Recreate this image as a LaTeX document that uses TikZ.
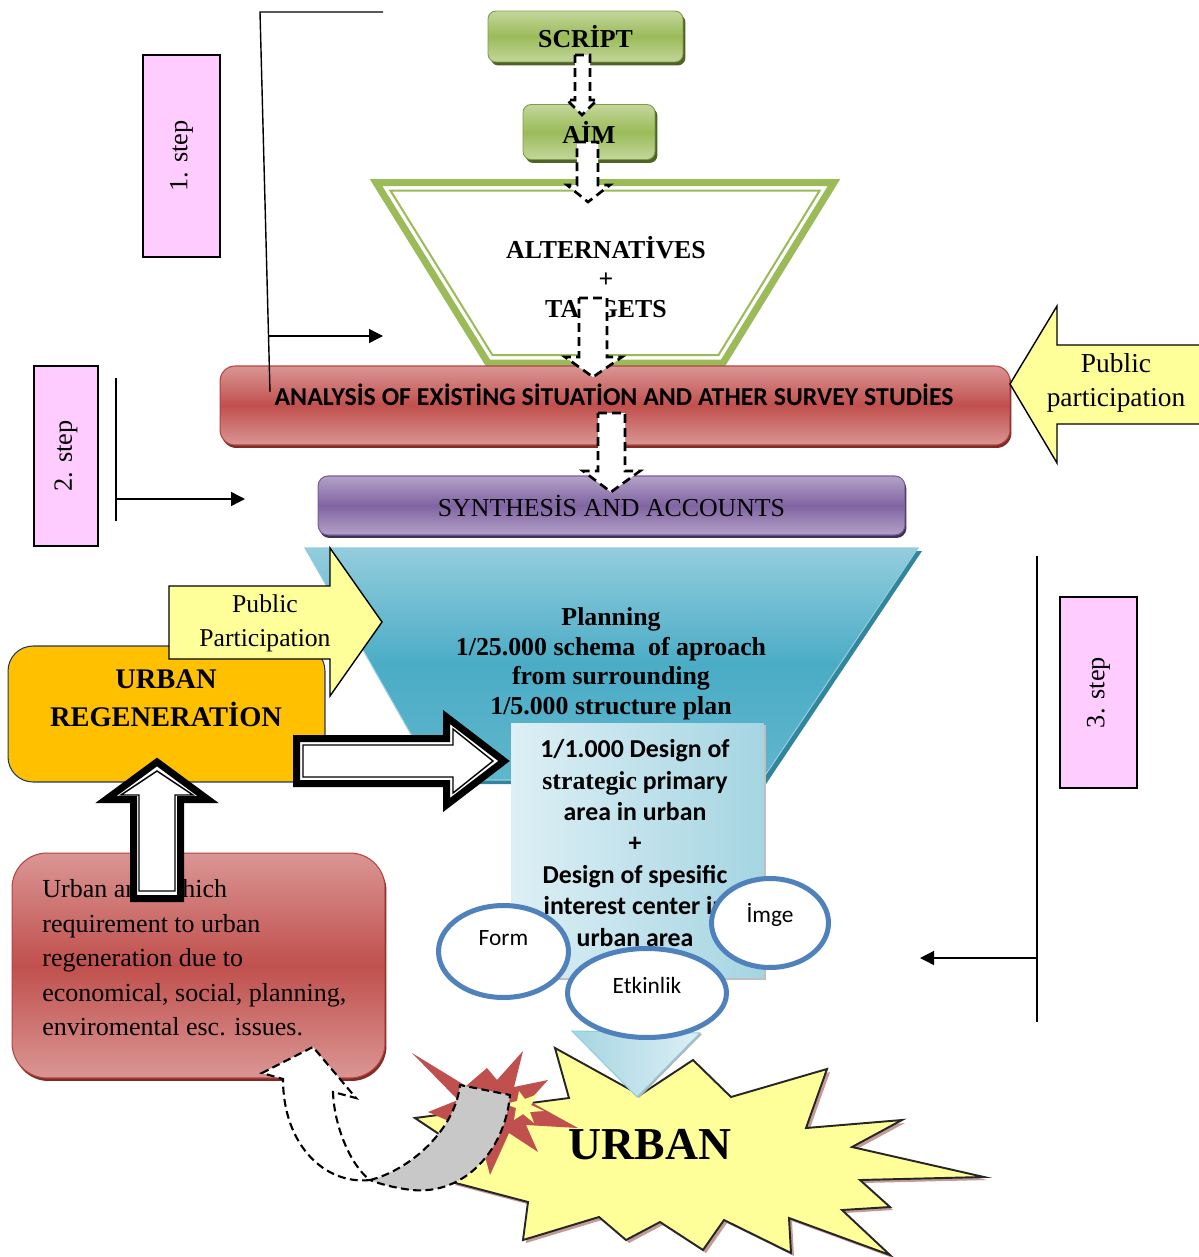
\documentclass[tikz,border=0pt]{standalone}
\usepackage{fontspec}
\setmainfont{Liberation Serif}
\newfontfamily\calibri{Carlito}
\newfontfamily\timesfont{Liberation Serif}
\usepackage{tikz}
\usetikzlibrary{positioning,shapes.geometric,arrows.meta,shadows}

\definecolor{stepPink}{HTML}{FFCCFF}
\definecolor{greenLight}{HTML}{C3D69B}
\definecolor{greenMid}{HTML}{9BBB59}
\definecolor{greenEdge}{HTML}{7F9E44}
\definecolor{greenDark}{HTML}{4F6228}
\definecolor{redLight}{HTML}{DA9694}
\definecolor{redMid}{HTML}{C0504D}
\definecolor{redEdge}{HTML}{B5443F}
\definecolor{redDark}{HTML}{7F2B28}
\definecolor{purpleLight}{HTML}{B3A2C7}
\definecolor{purpleMid}{HTML}{8064A2}
\definecolor{purpleEdge}{HTML}{7460A0}
\definecolor{purpleDark}{HTML}{3F3151}
\definecolor{blueTop}{HTML}{93CDDD}
\definecolor{blueMid}{HTML}{4BACC6}
\definecolor{blueLow}{HTML}{5FB6CC}
\definecolor{blueDark}{HTML}{31859C}
\definecolor{iceLight}{HTML}{DDEFF5}
\definecolor{iceDark}{HTML}{A5D5E2}
\definecolor{ringBlue}{HTML}{4F81BD}
\definecolor{notePale}{HTML}{FFFF99}
\definecolor{urbanOrange}{HTML}{FFC000}
\definecolor{navyEdge}{HTML}{1F3864}
\definecolor{shadowRose}{HTML}{C29A97}
\definecolor{ribbonGray}{HTML}{C8C8C8}

\begin{document}
\begin{tikzpicture}[
  x=0.02cm, y=-0.02cm,
  stepbox/.style={
    rectangle, draw=black, line width=0.9pt, fill=stepPink,
    rotate=90, minimum height=1.54cm,
    font=\fontsize{15}{18}\selectfont
  },
  greenbox/.style={
    rectangle, rounded corners=0.16cm, draw=greenEdge, line width=0.5pt,
    top color=greenLight, bottom color=greenLight, middle color=greenMid,
    drop shadow={shadow xshift=0.05cm, shadow yshift=-0.07cm, fill=greenDark, opacity=1},
    font=\bfseries\fontsize{14.7}{17}\selectfont
  },
  redbox/.style={
    rectangle, rounded corners=0.3cm, draw=redEdge, line width=0.6pt,
    top color=redLight, bottom color=redLight, middle color=redMid,
    drop shadow={shadow xshift=0.03cm, shadow yshift=-0.06cm, fill=redDark, opacity=1}
  },
  purplebox/.style={
    rectangle, rounded corners=0.2cm, draw=purpleEdge, line width=0.6pt,
    top color=purpleLight, bottom color=purpleLight, middle color=purpleMid,
    drop shadow={shadow xshift=0.03cm, shadow yshift=-0.06cm, fill=purpleDark, opacity=1}
  },
  regenbox/.style={
    rectangle, rounded corners=0.5cm, draw=navyEdge, line width=0.6pt,
    fill=urbanOrange, minimum width=6.34cm, minimum height=2.72cm
  },
  icebox/.style={
    rectangle, left color=iceLight, right color=iceDark,
    drop shadow={shadow xshift=0.04cm, shadow yshift=-0.04cm, fill=black!25, opacity=1},
    minimum width=5.06cm, minimum height=5.1cm
  },
  ring/.style={ellipse, draw=ringBlue, line width=0.1cm, fill=white, inner sep=0pt},
  ringtext/.style={font=\calibri\fontsize{13.3}{16}\selectfont},
  flowarrow/.style={draw=black, fill=white, line width=1.5pt,
    dash pattern=on 5pt off 3pt, line join=miter},
  notearrow/.style={draw=black, line width=0.8pt, fill=notePale, line join=miter},
  bigarrow/.style={draw=black, line width=0.14cm, fill=white, line join=miter},
  bigarrowin/.style={draw=black, line width=0.8pt, line join=miter},
  burst/.style={draw=black!85, line width=1.1pt, line join=miter},
  bracket/.style={line width=0.8pt},
  pointer/.style={bracket, -{Triangle[length=0.28cm,width=0.28cm]}}
]

\fill[white] (0,0) rectangle (1198,1257);
\useasboundingbox (0,0) rectangle (1198,1257);

% Step labels
\node[stepbox, minimum width=4.04cm] (step1) at (181.5,156) {1. step};
\node[stepbox, minimum width=3.6cm, minimum height=1.28cm] (step2) at (66,456) {2. step};
\node[stepbox, minimum width=3.82cm] (step3) at (1098.5,692.5) {3. step};

% Script and aim
\node[greenbox, minimum width=3.9cm, minimum height=1.02cm] (script) at (585.5,36.5) {SCRİPT};
\node[greenbox, minimum width=2.64cm, minimum height=1.1cm] (aim) at (589,132) {AİM};

% Alternatives funnel
\fill[white] (376,182.5) -- (834,182.5) -- (723,363) -- (488,363) -- cycle;
\draw[greenMid, line width=0.14cm, line join=miter] (376,182.5) -- (834,182.5) -- (723,363) -- (488,363) -- cycle;
\draw[greenMid, line width=0.04cm] (390.4,190.5) -- (819.7,190.5) -- (718.5,355) -- (492.4,355) -- cycle;
\node[font=\bfseries\fontsize{14.7}{16.8}\selectfont, align=center] (alts) at (606,277) {ALTERNATİVES\\+\\TARGETS};

% Dashed block arrows, top part
\draw[flowarrow] (575,55) -- (590,55) -- (590,100) -- (597,100) -- (582,115) -- (567,100) -- (575,100) -- cycle;
\draw[flowarrow] (577,142) -- (598,142) -- (598,185) -- (610,185) -- (588,202) -- (567,185) -- (577,185) -- cycle;

% Survey bar
\node[redbox, minimum width=15.8cm, minimum height=1.58cm] (survey) at (615,405.5) {};
\node[font=\calibri\bfseries\fontsize{14.7}{17}\selectfont] (surveytxt) at (614,395) {ANALYSİS OF EXİSTİNG SİTUATİON AND ATHER SURVEY STUDİES};
\draw[flowarrow] (579,298) -- (607,298) -- (607,357) -- (622,357) -- (593,377) -- (565,357) -- (579,357) -- cycle;

% Step 1 bracket
\coordinate (b1top) at (383,12);
\coordinate (b1corner) at (260,12);
\coordinate (b1foot) at (270,392);
\coordinate (b1from) at (268.5,336);
\coordinate (b1to) at (383,336);
\draw[bracket] (b1top) -- (b1corner) -- (b1foot);
\draw[pointer] (b1from) -- (b1to);

% Public participation (right)
\draw[notearrow] (1010,384) -- (1057,306) -- (1057,345) -- (1215,345) -- (1215,424) -- (1057,424) -- (1057,463) -- cycle;
\node[font=\fontsize{15.6}{19.3}\selectfont, align=center] (pubright) at (1116,383) {Public\\participation};

% Synthesis bar
\node[purplebox, minimum width=11.74cm, minimum height=1.18cm, font=\fontsize{14.7}{17}\selectfont] (synth) at (611.5,505.5) {SYNTHESİS AND ACCOUNTS};
\draw[flowarrow] (598,413) -- (625,413) -- (625,471) -- (640,471) -- (611,492) -- (583,471) -- (598,471) -- cycle;

% Step 2 bracket
\coordinate (b2top) at (116,378);
\coordinate (b2foot) at (116,521);
\coordinate (b2from) at (116,499);
\coordinate (b2to) at (245,499);
\draw[bracket] (b2top) -- (b2foot);
\draw[pointer] (b2from) -- (b2to);

% Planning funnel
\fill[blueDark] (309,551) -- (922,551) -- (766,784) -- (441,784) -- cycle;
\shadedraw[top color=blueTop, bottom color=blueLow, middle color=blueMid, draw=blueTop, line width=0.6pt] (305,548) -- (918,548) -- (762,780) -- (437,780) -- cycle;
\node[font=\bfseries\fontsize{14.7}{16.8}\selectfont, align=center] (plan) at (611,664) {Planning\\1/25.000 schema~ of aproach\\from surrounding\\1/5.000 structure plan};

% Design box
\node[icebox] (design) at (637.5,850.5) {};
\node[font=\calibri\bfseries\fontsize{14.7}{17.9}\selectfont, align=center] (designtxt) at (635,843) {1/1.000 Design of\\{\timesfont\bfseries strategic} primary\\area in urban\\+\\Design of spesific\\interest center in\\urban area};

% Step 3 bracket
\coordinate (b3top) at (1037,556);
\coordinate (b3foot) at (1037,1022);
\coordinate (b3from) at (1037,958);
\coordinate (b3to) at (920,958);
\draw[bracket] (b3top) -- (b3foot);
\draw[pointer] (b3from) -- (b3to);

% Urban regeneration
\node[regenbox] (regen) at (166.5,714) {};
\node[font=\bfseries\fontsize{16.2}{21.6}\selectfont, align=center] (regentxt) at (166,698) {URBAN\\REGENERATİON};

% Public participation (left)
\draw[notearrow] (169,586) -- (330,586) -- (330,548) -- (382,622) -- (330,696) -- (330,659) -- (169,659) -- cycle;
\node[font=\fontsize{14.6}{19.3}\selectfont, align=center] (publeft) at (265,623) {Public\\Participation};

% Big arrow into design
\draw[bigarrow] (296.5,738.5) -- (446.5,738.5) -- (446.5,717) -- (504,761) -- (446.5,805) -- (446.5,783.5) -- (296.5,783.5) -- cycle;
\draw[bigarrowin] (303,745) -- (453,745) -- (453,729) -- (493,761) -- (453,793) -- (453,777) -- (303,777) -- cycle;

% Issues box
\node[redbox, rounded corners=0.7cm, minimum width=7.46cm, minimum height=4.5cm] (issues) at (198.5,965.5) {};
\node[anchor=west, align=left, inner sep=0pt, font=\fontsize{14.8}{19.6}\selectfont] (issuestxt) at (42,958) {Urban area which\\requirement to urban\\regeneration due to\\economical, social, planning,\\enviromental esc. issues.};

% Big arrow up into regeneration
\draw[bigarrow] (157,762) -- (208,799.5) -- (180.5,799.5) -- (180.5,898.5) -- (133.5,898.5) -- (133.5,799.5) -- (106,799.5) -- cycle;
\draw[bigarrowin] (157,771) -- (193,795) -- (175,795) -- (175,891) -- (139,891) -- (139,795) -- (121,795) -- cycle;

% Rings
\node[ring, minimum width=2.6cm, minimum height=1.84cm, label={[ringtext, yshift=0.27cm]center:Form}] (form) at (503.5,951.5) {};
\node[ring, minimum width=2.34cm, minimum height=1.78cm, label={[ringtext, yshift=0.16cm]center:İmge}] (imge) at (770,923) {};

% Urban burst
\draw[burst, fill=notePale, drop shadow={shadow xshift=0.06cm, shadow yshift=-0.06cm, fill=shadowRose, opacity=1}]
  (555,1048) -- (640,1095) -- (693,1060) -- (731,1097) -- (827,1069) -- (806,1128) -- (902,1120) -- (852,1147)
  -- (984,1177) -- (860,1180) -- (890,1207) -- (842,1210) -- (890,1255) -- (789,1218) -- (791,1253) -- (724,1220)
  -- (703,1250) -- (660,1222) -- (626,1240) -- (599,1217) -- (523,1240) -- (528,1202) -- (452,1182) -- (478,1160)
  -- (415,1118) -- (569,1098) -- cycle;
\shadedraw[left color=iceDark, right color=iceLight, draw=blueTop, line width=0.6pt,
  drop shadow={shadow xshift=0.04cm, shadow yshift=-0.02cm, fill=black!30, opacity=1}]
  (572,1031) -- (700,1033) -- (637,1097) -- cycle;
\node[ring, minimum width=3.18cm, minimum height=1.78cm, label={[ringtext, yshift=0.16cm]center:Etkinlik}] (etkinlik) at (647,993) {};

% Red spark
\fill[redMid] (412,1053) -- (466,1086) -- (487,1068) -- (497,1080) -- (523,1051) -- (514,1087) -- (548,1080)
  -- (529,1101) -- (578,1128) -- (526,1125) -- (538,1152) -- (509,1133) -- (490,1175) -- (482,1145)
  -- (455,1150) -- (465,1128) -- (428,1112) -- (458,1100) -- cycle;
\fill[notePale] (519,1091) -- (525,1099) -- (538,1094) -- (531,1105) -- (544,1111) -- (530,1112) -- (534,1123)
  -- (523,1114) -- (514,1120) -- (516,1108) -- (505,1104) -- (517,1101) -- cycle;
\node[font=\bfseries\fontsize{26}{30}\selectfont] (urban) at (650,1145) {URBAN};

% Curved feedback arrow
\draw[flowarrow, line width=1.2pt, dash pattern=on 4.5pt off 2.5pt, fill=ribbonGray]
  (370,1180) .. controls (410,1170) and (455,1130) .. (460,1085) -- (510,1095)
  .. controls (505,1150) and (465,1195) .. (412,1190) .. controls (395,1188) and (380,1184) .. cycle;
\draw[flowarrow, line width=1.2pt, dash pattern=on 4.5pt off 2.5pt]
  (370,1180) .. controls (325,1185) and (283,1145) .. (283,1079) -- (262,1073) -- (313,1047) -- (356,1098)
  -- (333,1092) .. controls (334,1125) and (350,1165) .. cycle;

\end{tikzpicture}
\end{document}
